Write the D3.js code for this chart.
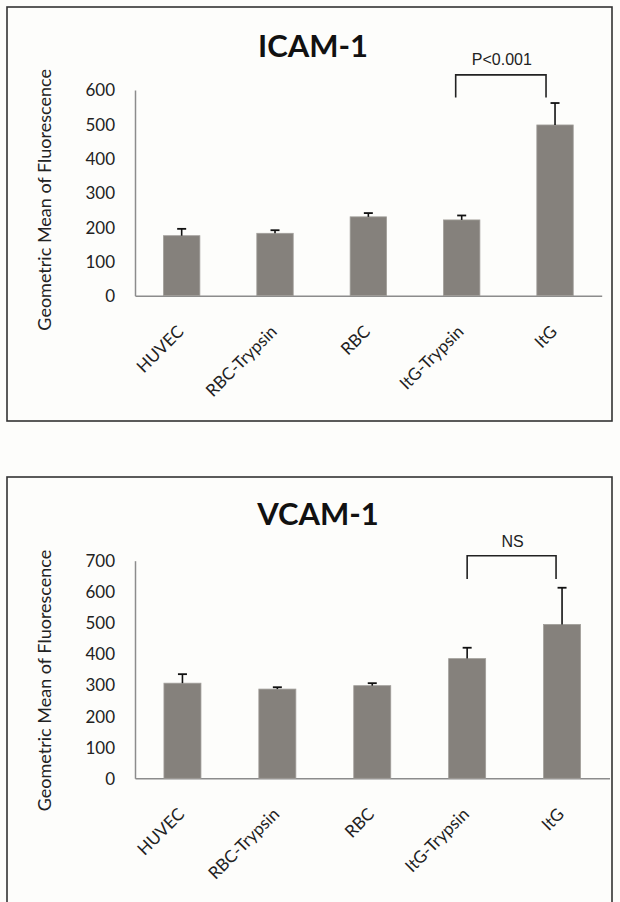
<!DOCTYPE html>
<html>
<head>
<meta charset="utf-8">
<script src="https://cdn.jsdelivr.net/npm/d3@7"></script>
<style>
  body { margin: 0; background: #fdfdfb; }
  svg { display: block; }
  .tick text { font-family: Lato, "Open Sans", sans-serif; fill: #222; }
</style>
</head>
<body>
<div id="app"></div>
<script>
const categories = ['HUVEC', 'RBC-Trypsin', 'RBC', 'ItG-Trypsin', 'ItG'];

const icamMeans = [175, 182, 230, 221, 498];
const icamErrors = [20, 9, 11, 13, 64];
const icamTicks = [0, 100, 200, 300, 400, 500, 600];

const vcamMeans = [306, 287, 298, 385, 495];
const vcamErrors = [29, 6, 8, 35, 118];
const vcamTicks = [0, 100, 200, 300, 400, 500, 600, 700];

const yTitle = 'Geometric Mean of  Fluorescence';

const w = 620;
const h = 902;

const svg = d3.select('#app')
  .append('svg')
  .attr('width', w)
  .attr('height', h);

function drawPanel(p) {
  const g = svg.append('g');

  // frame
  g.append('rect')
    .attr('x', p.box[0])
    .attr('y', p.box[1])
    .attr('width', p.box[2] - p.box[0])
    .attr('height', p.box[3] - p.box[1])
    .attr('fill', '#fdfdfb')
    .attr('stroke', '#333')
    .attr('stroke-width', 1.6);

  const xScale = d3.scaleBand()
    .domain(categories)
    .range([p.left, p.right])
    .paddingInner(0.61)
    .paddingOuter(0.305);

  const yScale = d3.scaleLinear()
    .domain([0, p.max])
    .range([p.bottom, p.top]);

  /////////AXES//////////
  const yAxis = d3.axisLeft(yScale).tickValues(p.ticks).tickSize(0).tickPadding(20);
  const yG = g.append('g')
    .attr('transform', 'translate(' + p.left + ',0)')
    .call(yAxis);
  yG.select('.domain').attr('stroke', '#8c8c8c').attr('stroke-width', 1.5);
  yG.selectAll('.tick text').style('font-size', '17px').attr('dy', '0.35em');

  const xAxis = d3.axisBottom(xScale).tickSize(0).tickFormat('');
  const xG = g.append('g')
    .attr('transform', 'translate(0,' + p.bottom + ')')
    .call(xAxis);
  xG.select('.domain').attr('stroke', '#8c8c8c').attr('stroke-width', 1.5);

  g.selectAll('.catLabel')
    .data(categories)
    .enter()
    .append('text')
    .attr('class', 'catLabel')
    .attr('transform', (d) => 'translate(' + (xScale(d) + xScale.bandwidth() / 2 + 3) + ',' + (p.bottom + 37) + ') rotate(-45)')
    .style('text-anchor', 'end')
    .style('font-family', 'Lato, "Open Sans", sans-serif')
    .style('font-size', '17px')
    .style('fill', '#222')
    .text((d) => d);

  g.append('text')
    .attr('transform', 'translate(' + p.yTitleX + ',' + ((p.bottom + p.top) / 2 + p.yTitleShift) + ') rotate(-90)')
    .style('text-anchor', 'middle')
    .style('font-family', 'Lato, "Open Sans", sans-serif')
    .style('font-size', '18px')
    .style('fill', '#222')
    .attr('dy', '0.35em')
    .text(yTitle);

  g.append('text')
    .attr('x', p.titleX)
    .attr('y', p.titleY)
    .style('text-anchor', 'middle')
    .style('font-family', 'Lato, "Open Sans", sans-serif')
    .style('font-weight', 'bold')
    .style('font-size', '31px')
    .style('fill', '#111')
    .text(p.title);

  //////////BARS//////////
  g.selectAll('.bar')
    .data(p.means)
    .enter()
    .append('rect')
    .attr('class', 'bar')
    .attr('x', (d, i) => xScale(categories[i]))
    .attr('y', (d) => yScale(d))
    .attr('width', xScale.bandwidth())
    .attr('height', (d) => yScale(0) - yScale(d))
    .attr('fill', '#85817c')
    .attr('stroke', '#a19e9a')
    .attr('stroke-width', 0.8);

  //////////ERRORS//////////
  const cx = (i) => xScale(categories[i]) + xScale.bandwidth() / 2;

  g.selectAll('.errLine')
    .data(p.errors)
    .enter()
    .append('line')
    .attr('x1', (d, i) => cx(i))
    .attr('x2', (d, i) => cx(i))
    .attr('y1', (d, i) => yScale(p.means[i]))
    .attr('y2', (d, i) => yScale(p.means[i] + d))
    .attr('stroke', '#111')
    .attr('stroke-width', 1.6);

  g.selectAll('.errCap')
    .data(p.errors)
    .enter()
    .append('line')
    .attr('x1', (d, i) => cx(i) - 4.5)
    .attr('x2', (d, i) => cx(i) + 4.5)
    .attr('y1', (d, i) => yScale(p.means[i] + d))
    .attr('y2', (d, i) => yScale(p.means[i] + d))
    .attr('stroke', '#111')
    .attr('stroke-width', 1.8);

  //////////BRACKET//////////
  const bl = cx(3) + p.bracketShift[0];
  const br = cx(4) + p.bracketShift[1];
  const path = d3.path();
  path.moveTo(bl, yScale(p.bracketLegs));
  path.lineTo(bl, yScale(p.bracketTop));
  path.lineTo(br, yScale(p.bracketTop));
  path.lineTo(br, yScale(p.bracketLegs));
  g.append('path')
    .attr('d', path.toString())
    .attr('fill', 'none')
    .attr('stroke', '#222')
    .attr('stroke-width', 1.6);

  g.append('text')
    .attr('x', (bl + br) / 2 + 1)
    .attr('y', yScale(p.labelAt))
    .style('text-anchor', 'middle')
    .style('font-family', '"Liberation Sans", Arial, sans-serif')
    .style('font-size', '16px')
    .style('fill', '#222')
    .text(p.sig);
}

drawPanel({
  box: [7, 7, 612, 421],
  left: 135, right: 601.7, top: 90, bottom: 295.7, max: 600,
  ticks: icamTicks, means: icamMeans, errors: icamErrors,
  title: 'ICAM-1', titleX: 313, titleY: 57,
  yTitleX: 45, yTitleShift: 7,
  bracketShift: [-6, -9], bracketTop: 644, bracketLegs: 578, labelAt: 673, sig: 'P<0.001'
});

drawPanel({
  box: [7, 477, 612, 910],
  left: 135, right: 609.5, top: 560.7, bottom: 778.3, max: 700,
  ticks: vcamTicks, means: vcamMeans, errors: vcamErrors,
  title: 'VCAM-1', titleX: 318, titleY: 525,
  yTitleX: 45, yTitleShift: 11,
  bracketShift: [0, -6], bracketTop: 716, bracketLegs: 641, labelAt: 745, sig: 'NS'
});
</script>
</body>
</html>
